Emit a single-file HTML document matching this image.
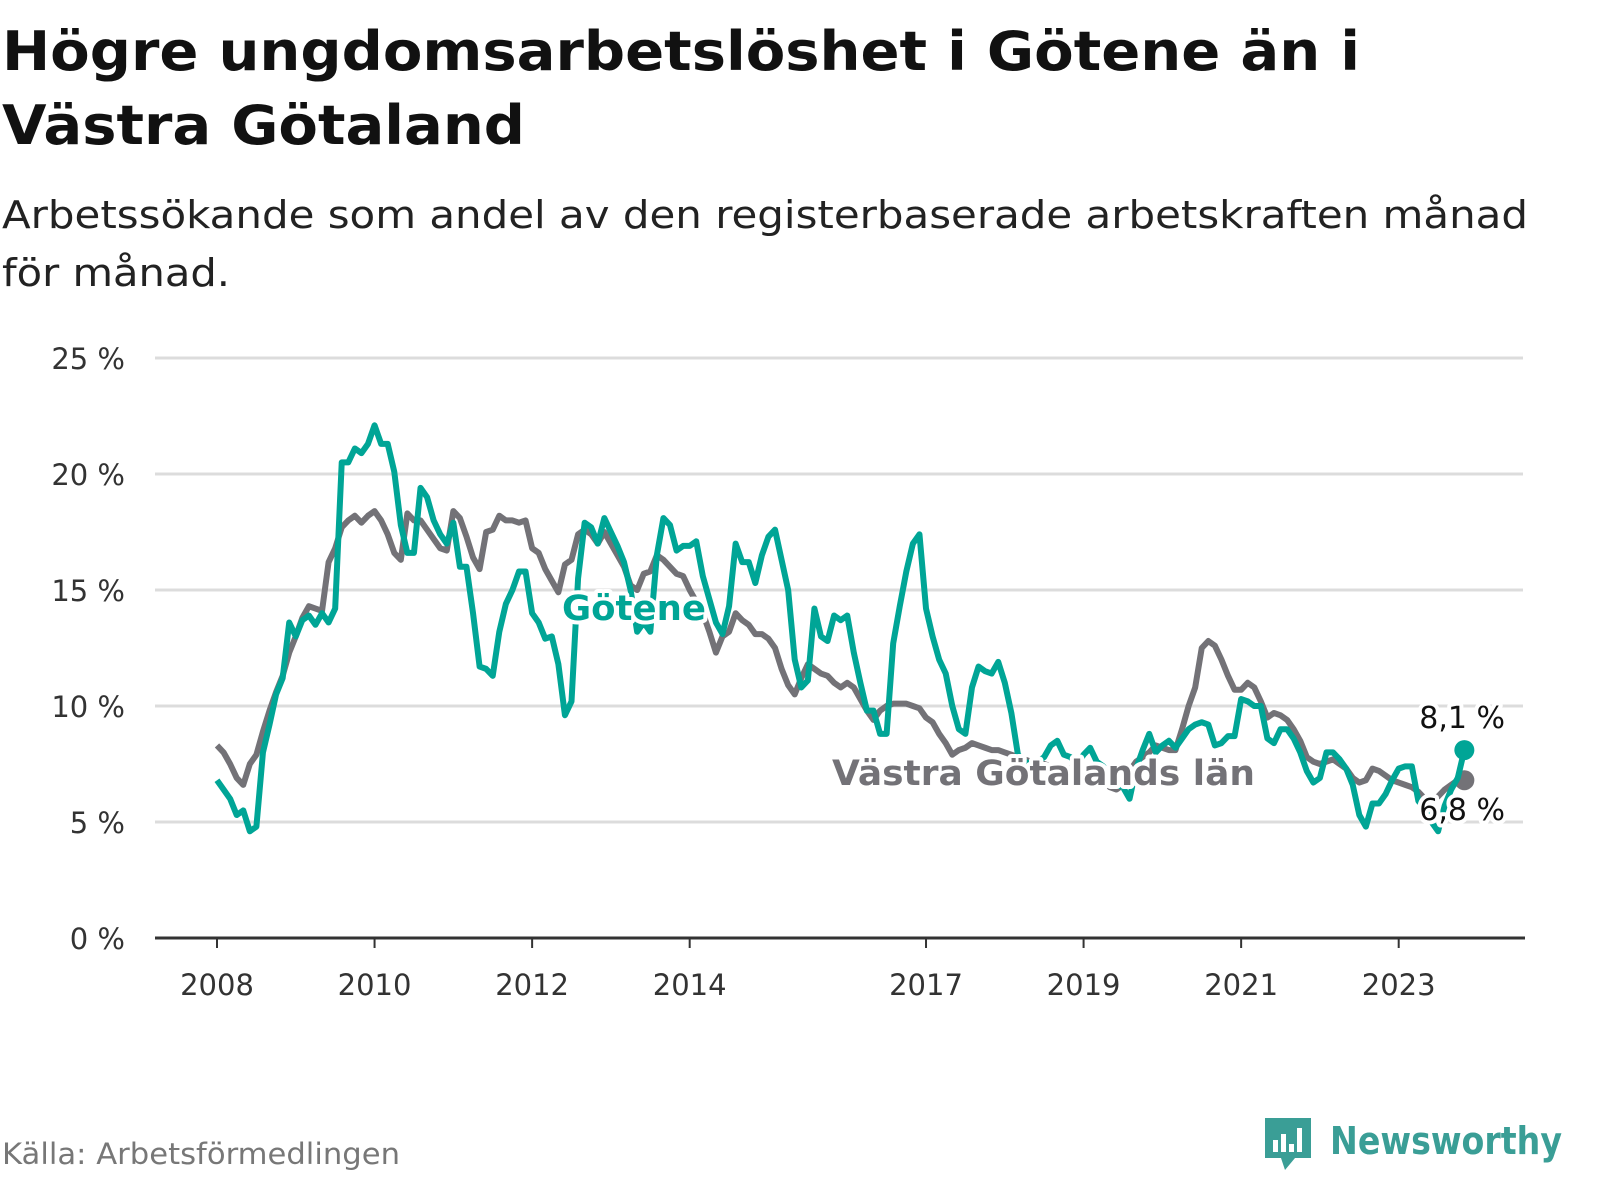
<!DOCTYPE html>
<html><head><meta charset="utf-8"><style>
body{margin:0;background:#fff;width:1600px;height:1200px;overflow:hidden;font-family:"DejaVu Sans","Liberation Sans",sans-serif}
svg{position:absolute;left:0;top:0;font-family:"DejaVu Sans","Liberation Sans",sans-serif}
</style></head><body>
<svg width="1600" height="1200" id="chart">
<text x="2" y="70" font-size="54" font-weight="bold" fill="#111" textLength="1358" lengthAdjust="spacingAndGlyphs">Högre ungdomsarbetslöshet i Götene än i</text>
<text x="2" y="144" font-size="54" font-weight="bold" fill="#111" textLength="523" lengthAdjust="spacingAndGlyphs">Västra Götaland</text>
<text x="2" y="228" font-size="38" fill="#222" textLength="1526" lengthAdjust="spacingAndGlyphs">Arbetssökande som andel av den registerbaserade arbetskraften månad</text>
<text x="2" y="286" font-size="38" fill="#222" textLength="228" lengthAdjust="spacingAndGlyphs">för månad.</text>
<g id="grid"></g><g id="lines"></g><g id="labels"></g>
<text x="2" y="1164" font-size="29" fill="#777" textLength="398" lengthAdjust="spacingAndGlyphs">Källa: Arbetsförmedlingen</text>
<g>
<path d="M1265 1118 h46 v40 h-16 l-10 12 l-4 -12 h-16 z" fill="#3a9e96"/>
<rect x="1273" y="1140" width="5" height="12" fill="#fff"/><rect x="1281" y="1134" width="5" height="18" fill="#fff"/><rect x="1289" y="1144" width="5" height="8" fill="#fff"/><rect x="1297" y="1128" width="5" height="24" fill="#fff"/>
<text x="1330" y="1154" font-size="38" font-weight="bold" fill="#3a9e96" textLength="232" lengthAdjust="spacingAndGlyphs">Newsworthy</text>
</g>
</svg>
<script>
const yTicks=[0,5,10,15,20,25];
const xYears=[2008,2010,2012,2014,2017,2019,2021,2023];
const gotene=[6.8,6.4,6.0,5.3,5.5,4.6,4.8,8.0,9.2,10.5,11.2,13.6,13.0,13.7,13.9,13.5,14.0,13.6,14.2,20.5,20.5,21.1,20.9,21.3,22.1,21.3,21.3,20.1,17.8,16.6,16.6,19.4,19.0,18.0,17.4,17.0,17.9,16.0,16.0,14.0,11.7,11.6,11.3,13.2,14.4,15.0,15.8,15.8,14.0,13.6,12.9,13.0,11.8,9.6,10.2,15.5,17.9,17.7,17.0,18.1,17.5,16.9,16.2,15.0,13.2,13.6,13.2,16.5,18.1,17.8,16.7,16.9,16.9,17.1,15.6,14.6,13.6,13.1,14.3,17.0,16.2,16.2,15.3,16.5,17.3,17.6,16.3,15.0,12.0,10.8,11.1,14.2,13.0,12.8,13.9,13.7,13.9,12.3,11.0,9.8,9.8,8.8,8.8,12.7,14.3,15.8,17.0,17.4,14.2,13.0,12.0,11.4,10.0,9.0,8.8,10.8,11.7,11.5,11.4,11.9,11.0,9.7,7.9,7.6,7.5,7.6,7.8,8.3,8.5,7.9,7.8,7.5,7.9,8.2,7.6,7.4,7.0,6.6,6.5,6.0,7.3,8.1,8.8,8.0,8.3,8.5,8.2,8.6,9.0,9.2,9.3,9.2,8.3,8.4,8.7,8.7,10.3,10.2,10.0,10.0,8.6,8.4,9.0,9.0,8.6,8.0,7.2,6.7,6.9,8.0,8.0,7.7,7.3,6.6,5.3,4.8,5.8,5.8,6.2,6.8,7.3,7.4,7.4,5.9,5.6,5.0,4.6,5.7,6.4,6.9,8.1];
const vgr=[8.3,8.0,7.5,6.9,6.6,7.5,7.9,8.9,9.8,10.6,11.3,12.3,13.0,13.8,14.3,14.2,14.1,16.2,16.8,17.7,18.0,18.2,17.9,18.2,18.4,18.0,17.4,16.6,16.3,18.3,18.0,18.0,17.6,17.2,16.8,16.7,18.4,18.1,17.3,16.4,15.9,17.5,17.6,18.2,18.0,18.0,17.9,18.0,16.8,16.6,15.9,15.4,14.9,16.1,16.3,17.4,17.6,17.4,17.0,
17.5,17.0,16.5,16.0,15.2,15.0,15.7,15.8,16.5,16.3,16.0,15.7,15.6,15.0,14.5,14.0,13.2,12.3,13.0,13.2,14.0,13.7,13.5,13.1,13.1,12.9,12.5,11.6,10.9,10.5,11.2,11.8,11.6,11.4,11.3,11.0,10.8,11.0,10.8,10.3,9.8,9.4,9.8,10.0,10.1,10.1,10.1,10.0,9.9,9.5,9.3,8.8,8.4,7.9,8.1,8.2,8.4,8.3,8.2,8.1,8.1,8.0,7.9,7.8,7.7,7.6,7.5,7.5,7.4,7.4,7.3,7.3,7.2,7.1,7.0,6.9,6.8,6.5,6.4,6.6,7.2,7.6,7.8,8.0,8.3,8.2,8.1,8.1,9.0,10.0,10.8,12.5,12.8,12.6,12.0,11.3,10.7,10.7,11.0,10.8,10.2,9.5,9.7,9.6,9.4,9.0,8.5,7.8,7.6,7.5,7.6,7.7,7.5,7.3,6.9,6.7,6.8,7.3,7.2,7.0,6.8,6.7,6.6,6.5,6.3,6.0,5.9,6.1,6.4,6.6,6.8,6.8];
const NS='http://www.w3.org/2000/svg';
const X0=217,MPX=6.565,Y0=938,PPU=23.2;
const xs=i=>X0+i*MPX, ys=v=>Y0-v*PPU;
function mk(t,a,p){const e=document.createElementNS(NS,t);for(const k in a)e.setAttribute(k,a[k]);p.appendChild(e);return e;}
const grid=document.getElementById('grid'),lines=document.getElementById('lines'),labels=document.getElementById('labels');
yTicks.forEach(v=>{
 if(v>0){const l=mk('line',{x1:155,x2:1523,y1:ys(v),y2:ys(v),stroke:'#dcdcdc','stroke-width':3},grid);
 
 }
 const t=mk('text',{x:125,y:ys(v)+11,'font-size':29,fill:'#333','text-anchor':'end'},grid);t.textContent=v+' %';
 
 
});
const ax=mk('line',{x1:155,x2:1525,y1:Y0,y2:Y0,stroke:'#333','stroke-width':3},grid);


xYears.forEach(y=>{const x=xs((y-2008)*12);
 const tk=mk('line',{x1:x,x2:x,y1:Y0,y2:Y0+10,stroke:'#333','stroke-width':2},grid);
 
 
 const t=mk('text',{x:x,y:995,'font-size':29,fill:'#333','text-anchor':'middle'},grid);t.textContent=y;
 
 
});
function line(d,c,name){const p=mk('polyline',{points:d.map((v,i)=>xs(i)+','+ys(v)).join(' '),fill:'none',stroke:c,'stroke-width':6,'stroke-linejoin':'round'},lines);
 
 
 const n=d.length-1;const c2=mk('circle',{cx:xs(n),cy:ys(d[n]),r:10,fill:c},lines);
 
 }
line(vgr,'#737277','vgr-line');
line(gotene,'#00a596','gotene-line');
function lab(x,y,txt,c,w,name,len,anchor){const a={x:x,y:y,'font-size':w==='bold'?35:30,'font-weight':w,fill:c,stroke:'#fff','stroke-width':8,'paint-order':'stroke','stroke-linejoin':'round','text-anchor':anchor||'start'};
 if(len){a.textLength=len;a.lengthAdjust='spacingAndGlyphs';}
 const t=mk('text',a,labels);t.textContent=txt;
 
 }
lab(562,620,'Götene','#00a596','bold','gotene-label',144);
lab(832,785,'Västra Götalands län','#737277','bold','vgr-label',423);
lab(1505,728,'8,1 %','#111','normal','gotene-end-value',0,'end');
lab(1505,820,'6,8 %','#111','normal','vgr-end-value',0,'end');
</script>
</body></html>
